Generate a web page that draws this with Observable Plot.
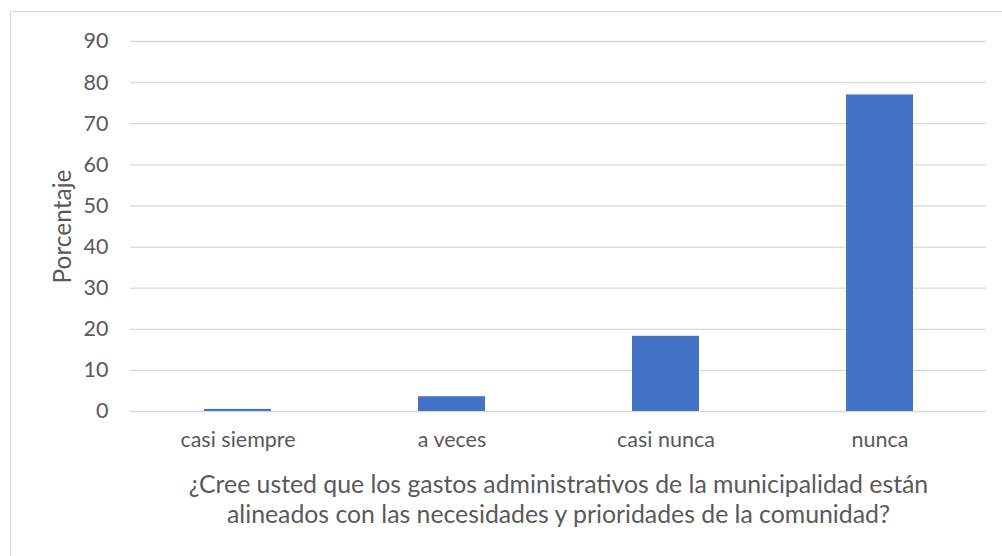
<!DOCTYPE html>
<html>
<head>
<meta charset="utf-8">
<script src="https://cdn.jsdelivr.net/npm/d3@7"></script>
<script src="https://cdn.jsdelivr.net/npm/@observablehq/plot@0.6"></script>
<style>
  html, body { margin: 0; padding: 0; background: #fff; }
  #chart { position: relative; width: 1002px; height: 556px; }
  svg { font-family: Lato, "Open Sans", sans-serif; }
</style>
</head>
<body>
<div id="chart"></div>
<script>
const categories = ["casi siempre", "a veces", "casi nunca", "nunca"];
const values = [0.5, 3.6, 18.3, 77.0];
const yTicks = [0, 10, 20, 30, 40, 50, 60, 70, 80, 90];
const yTitle = "Porcentaje";
const xTitleLines = [
  "¿Cree usted que los gastos administrativos de la municipalidad están",
  "alineados con las necesidades y prioridades de la comunidad?"
];

const data = categories.map((c, i) => ({category: c, value: values[i]}));
const textColor = "#595959";

const plot = Plot.plot({
  width: 1002,
  height: 556,
  marginTop: 41,
  marginBottom: 145,
  marginLeft: 130,
  marginRight: 16,
  style: {fontSize: "21px", color: textColor, background: "transparent"},
  x: {domain: categories, paddingInner: 0.687, paddingOuter: 0.3435, label: null},
  y: {domain: [0, 90], ticks: yTicks, label: null},
  marks: [
    Plot.gridY(yTicks, {stroke: "#d9d9d9", strokeOpacity: 1, strokeWidth: 1.3}),
    Plot.barY(data, {x: "category", y: "value", fill: "#4472c4"}),
    Plot.axisY(yTicks, {tickSize: 0, tickPadding: 22, fill: textColor, fontSize: 21.5}),
    Plot.axisX({tickSize: 0, tickPadding: 20, fill: textColor, fontSize: 21.5}),
    Plot.text([yTitle], {frameAnchor: "left", textAnchor: "middle", rotate: -90, dx: -67, fill: textColor, fontSize: 24.5}),
    Plot.text([xTitleLines.join("\n")], {frameAnchor: "bottom", lineAnchor: "middle", dy: 86.5, lineHeight: 1.22, fill: textColor, fontSize: 24.8})
  ]
});

const svg = d3.select(plot);
svg.insert("rect", ":first-child")
  .attr("x", 10.5).attr("y", 11.5).attr("width", 1000).attr("height", 560)
  .attr("fill", "white").attr("stroke", "#d9d9d9").attr("stroke-width", 1);

document.getElementById("chart").appendChild(plot);
</script>
</body>
</html>
